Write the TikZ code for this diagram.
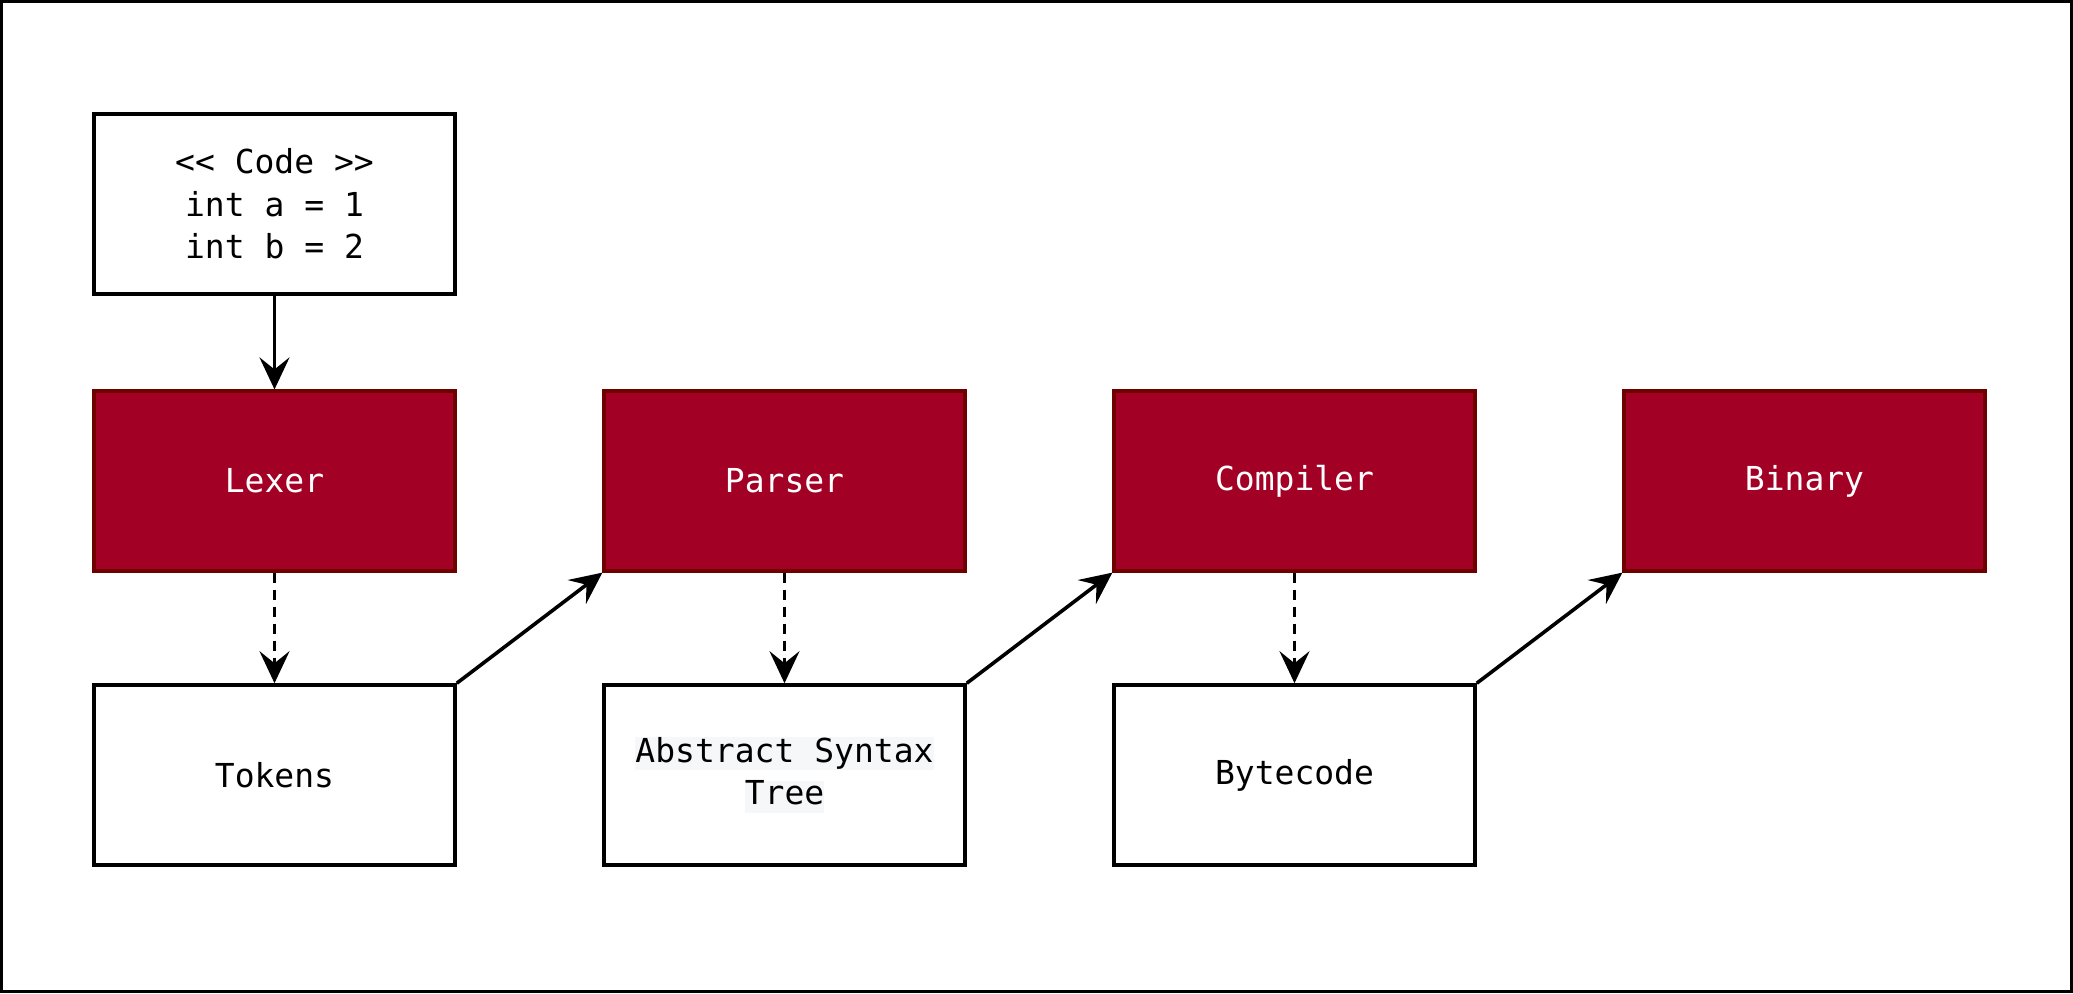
\documentclass[tikz,border=0pt]{standalone}
\usepackage{fontspec}
\usetikzlibrary{arrows.meta}
\newfontfamily\codefont{DejaVu Sans Mono}
\definecolor{crimsonfill}{HTML}{A20025}
\definecolor{crimsonline}{HTML}{6F0000}
\definecolor{hlbg}{HTML}{F5F7F9}
\newcommand{\hlline}[1]{{\setlength{\fboxsep}{0pt}\colorbox{hlbg}{\rule[-4pt]{0pt}{16pt}#1}}}
\begin{document}
\begin{tikzpicture}[x=0.5pt,y=-0.5pt,
  every node/.style={font=\codefont\fontsize{16.5}{21.3}\selectfont},
  whitebox/.style={draw=black, fill=white, line width=1.8pt, minimum width=180.5pt, minimum height=90pt, inner sep=0pt, align=center},
  redbox/.style={draw=crimsonline, fill=crimsonfill, text=white, line width=1.6pt, minimum width=180.5pt, minimum height=90pt, inner sep=0pt, align=center},
  conn/.style={line width=1.8pt, -{Stealth[length=16pt,width=15pt,inset=6pt]}},
  dconn/.style={conn, dash pattern=on 5pt off 3.5pt}
]
\useasboundingbox (0,0) rectangle (2073,993);
\draw[line width=1.5pt] (1.5,1.5) rectangle (2071.5,991.5);

\node[whitebox] (code) at (274.5,204) {<{}< Code >{}>\\int a = 1\\int b = 2};

\node[redbox] (lexer) at (274.5,481) {Lexer};
\node[redbox] (parser) at (784.5,481) {Parser};
\node[redbox] (compiler) at (1294.5,481) {Compiler};
\node[redbox] (binary) at (1804.5,481) {Binary};

\node[whitebox] (tokens) at (274.5,775) {Tokens};
\node[whitebox] (ast) at (784.5,775) {\hlline{Abstract Syntax}\\\hlline{Tree}};
\node[whitebox] (bytecode) at (1294.5,775) {Bytecode};

\draw[conn] (code.south) -- (lexer.north);
\draw[dconn] (lexer.south) -- (tokens.north);
\draw[conn] (tokens.north east) -- (parser.south west);
\draw[dconn] (parser.south) -- (ast.north);
\draw[conn] (ast.north east) -- (compiler.south west);
\draw[dconn] (compiler.south) -- (bytecode.north);
\draw[conn] (bytecode.north east) -- (binary.south west);
\end{tikzpicture}
\end{document}
